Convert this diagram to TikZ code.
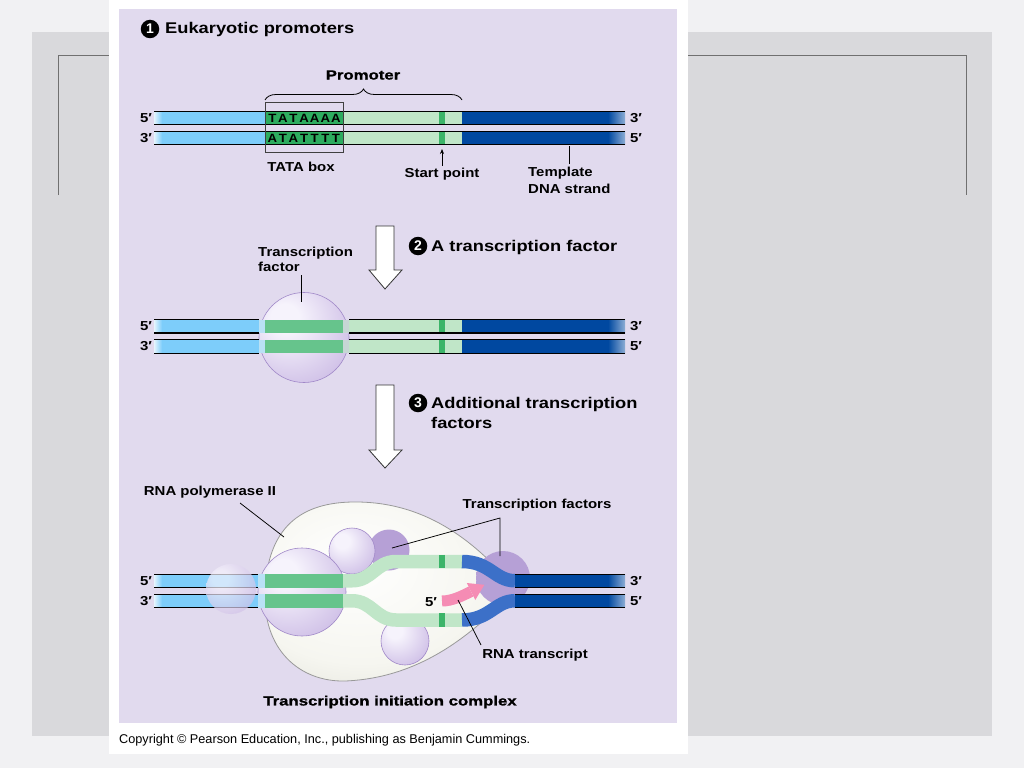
\documentclass[tikz,border=0pt]{standalone}
\usepackage{fontspec}
\setmainfont{Liberation Sans}
\newfontfamily\labf[FakeStretch=1.15]{Liberation Sans}
\newfontfamily\headf[FakeStretch=1.18]{Liberation Sans}
\newfontfamily\heavyf[FakeStretch=1.26,BoldFeatures={FakeBold=1.2}]{Liberation Sans}
\newfontfamily\letf[FakeStretch=1.1]{Liberation Sans}
\usetikzlibrary{decorations.pathreplacing,arrows.meta}

\definecolor{outerbg}{RGB}{241,241,243}
\definecolor{slidegray}{RGB}{217,217,220}
\definecolor{frameln}{RGB}{112,112,112}
\definecolor{lav}{RGB}{225,218,238}
\definecolor{lblue}{RGB}{125,205,250}
\definecolor{pblue}{RGB}{185,225,245}
\definecolor{dblue}{RGB}{0,72,160}
\definecolor{mblue}{RGB}{60,112,200}
\definecolor{tgreen}{RGB}{45,172,95}
\definecolor{mgreen}{RGB}{102,196,140}
\definecolor{lgreen}{RGB}{192,230,200}
\definecolor{sgreen}{RGB}{60,180,105}
\definecolor{rnapink}{RGB}{245,140,180}
\definecolor{orbA}{RGB}{246,243,252}
\definecolor{orbB}{RGB}{206,190,230}
\definecolor{orbC}{RGB}{160,136,200}
\definecolor{orbD}{RGB}{182,160,214}
\definecolor{orbE}{RGB}{148,122,192}
\definecolor{bodyA}{RGB}{246,246,240}
\definecolor{bodyB}{RGB}{212,212,202}

\pgfdeclareradialshading{orbL}{\pgfpoint{-12bp}{12bp}}{color(0bp)=(orbA); color(8bp)=(orbA); color(36bp)=(orbB); color(56bp)=(orbC); color(72bp)=(orbC)}
\pgfdeclareradialshading{orbDk}{\pgfpoint{-12bp}{12bp}}{color(0bp)=(orbD); color(30bp)=(orbD); color(56bp)=(orbE); color(72bp)=(orbE)}
\pgfdeclareradialshading{bodysh}{\pgfpoint{-8bp}{8bp}}{color(0bp)=(white); color(25bp)=(bodyA); color(50bp)=(bodyB); color(72bp)=(bodyB)}

\tikzset{
  lbl/.style={font=\labf\bfseries\fontsize{13}{15}\selectfont, inner sep=0pt, text=black},
  head/.style={font=\headf\bfseries\fontsize{15.5}{20}\selectfont, inner sep=0pt, anchor=west, align=left},
  heavy/.style={font=\heavyf\bfseries\fontsize{13.3}{16}\selectfont, inner sep=0pt},
  numc/.style={circle, fill=black, text=white, inner sep=0pt, minimum size=18.5pt, font=\bfseries\fontsize{14}{14}\selectfont},
  leader/.style={draw=black, line width=0.75},
  dnaline/.style={line width=0.7, black},
  bigarrow/.style={fill=white, draw=black!80, line width=0.8},
  strand/.style={line width=13.5},
  baseletter/.style={font=\letf\bfseries\fontsize{12}{12}\selectfont, inner sep=0pt},
  orbdraw/.style={draw=orbC, line width=0.6},
}

\begin{document}
\begin{tikzpicture}[x=1pt,y=-1pt]
\useasboundingbox (0,0) rectangle (1024,768);
\fill[outerbg] (0,0) rectangle (1024,768);
\fill[slidegray] (32,32) rectangle (992,736);
\draw[frameln, line width=1] (58,195) -- (58,56) -- (966,56) -- (966,195);
\fill[white] (109,0) rectangle (688,754);
\fill[lav] (119,9) rectangle (677,723);

% ---------- Stage 1 ----------
\node[numc] (n1) at (150,29) {1};
\node[head] (t1) at (165,29) {Eukaryotic promoters};

\foreach \ya/\yb in {111/124.5,131/144.5}{
  \fill[lblue] (162,\ya) rectangle (265,\yb);
  \shade[left color=lblue!20!white, right color=lblue] (154,\ya) rectangle (162,\yb);
  \fill[tgreen] (265,\ya) rectangle (343,\yb);
  \fill[lgreen] (343,\ya) rectangle (462,\yb);
  \fill[sgreen] (439,\ya) rectangle (445,\yb);
  \fill[dblue] (462,\ya) rectangle (608,\yb);
  \shade[left color=dblue, right color=dblue!45!white] (608,\ya) rectangle (625,\yb);
}
\draw[dnaline] (154,111) -- (625,111);
\draw[dnaline, line width=1.5] (154,124.5) -- (625,124.5);
\draw[dnaline] (154,131) -- (625,131);
\draw[dnaline] (154,144.5) -- (625,144.5);

\foreach \c [count=\i from 0] in {T,A,T,A,A,A,A}
  \node[baseletter] (ta\i) at ({272.3+10.6*\i},118) {\c};
\foreach \c [count=\i from 0] in {A,T,A,T,T,T,T}
  \node[baseletter] (tb\i) at ({272.3+10.6*\i},138) {\c};

\node[draw=black!75, line width=1, minimum width=78pt, minimum height=50pt, inner sep=0pt] (tatabox) at (304,127) {};
\draw[decorate, decoration={brace, amplitude=11pt}, line width=0.8] (265,100) -- (462,100);
\node[heavy] (prom) at (363,75) {Promoter};

\node[lbl] (s1a) at (146,118) {5′};
\node[lbl] (s1b) at (146,138) {3′};
\node[lbl] (s1c) at (636,118) {3′};
\node[lbl] (s1d) at (636,138) {5′};

\node[lbl] (tatal) at (301,167) {TATA box};
\node[lbl] (startl) at (442,174) {Start point};
\coordinate (startp) at (442,149);
\draw[-{Stealth[length=5pt,width=4pt]}, line width=0.7, shorten <=2pt] (startl.north) -- (startp);
\node[lbl, align=left, anchor=north west, font=\labf\bfseries\fontsize{13}{17}\selectfont] (templ) at (528,167) {Template\\DNA strand};
\coordinate (tmplA) at (569,164);
\coordinate (tmplB) at (569,146);
\draw[leader] (tmplA) -- (tmplB);

% ---------- Arrow / Stage 2 ----------
\path[bigarrow] (376,226) -- (394,226) -- (394,270) -- (402,270) -- (385,289) -- (369,270) -- (376,270) -- cycle;
\node[numc] (n2) at (418,246) {2};
\node[head] (t2) at (431,247) {A transcription factor};

\shade[shading=orbL] (304,337.5) circle[radius=45];
\draw[orbdraw] (304,337.5) circle[radius=45];

\foreach \ya/\yb in {319.5/333,339.5/353}{
  \fill[lblue] (162,\ya) rectangle (259,\yb);
  \shade[left color=lblue!20!white, right color=lblue] (154,\ya) rectangle (162,\yb);
  \fill[pblue] (259,\ya) rectangle (265,\yb);
  \fill[mgreen] (265,\ya) rectangle (343,\yb);
  \fill[lgreen!60!orbB] (343,\ya) rectangle (349,\yb);
  \fill[lgreen] (349,\ya) rectangle (462,\yb);
  \fill[sgreen] (439,\ya) rectangle (445,\yb);
  \fill[dblue] (462,\ya) rectangle (608,\yb);
  \shade[left color=dblue, right color=dblue!45!white] (608,\ya) rectangle (625,\yb);
}
\foreach \yy in {319.5,339.5,353}{
  \draw[dnaline] (154,\yy) -- (259,\yy);
  \draw[dnaline] (349,\yy) -- (625,\yy);
}
\draw[dnaline, line width=1.5] (154,333) -- (259,333);
\draw[dnaline, line width=1.5] (349,333) -- (625,333);

\node[lbl] (s2a) at (146,326) {5′};
\node[lbl] (s2b) at (146,346) {3′};
\node[lbl] (s2c) at (636,326) {3′};
\node[lbl] (s2d) at (636,346) {5′};

\node[lbl, align=left, anchor=west] (tfl) at (258,259.5) {Transcription\\factor};
\coordinate (tfA) at (301,275);
\coordinate (tfB) at (301,302);
\draw[leader] (tfA) -- (tfB);

% ---------- Arrow / Stage 3 ----------
\path[bigarrow] (376,385) -- (394,385) -- (394,450) -- (402,450) -- (385,468) -- (369,450) -- (376,450) -- cycle;
\node[numc] (n3) at (418,403) {3};
\node[head] (t3) at (431,413) {Additional transcription\\factors};

% polymerase body
\shadedraw[shading=bodysh, draw=black!40, line width=0.8]
  (514,587) .. controls (478,545) and (430,503) .. (358,502)
  .. controls (298,501) and (268,530) .. (265,590)
  .. controls (262,650) and (300,682) .. (345,681)
  .. controls (420,678) and (472,635) .. (514,591) -- cycle;

% balls
\shade[shading=orbDk] (503,578) circle[radius=27];
\shade[shading=orbDk] (389,550) circle[radius=20.5];
\shade[shading=orbL] (352,551) circle[radius=23];
\draw[orbdraw] (352,551) circle[radius=23];
\shade[shading=orbL] (405,641) circle[radius=24];
\draw[orbdraw] (405,641) circle[radius=24];
\shade[shading=orbL] (302,592) circle[radius=44];
\draw[orbdraw] (302,592) circle[radius=44];

% DNA stage 3
\foreach \yc/\yo in {580.75/561.5,600.75/620}{
  \draw[strand, lblue] (162,\yc) -- (258,\yc);
  \draw[strand, pblue] (258,\yc) -- (265,\yc);
  \draw[strand, mgreen] (265,\yc) -- (343,\yc);
  \draw[strand, lgreen] (343,\yc) -- (352,\yc) .. controls (372,\yc) and (376,\yo) .. (396,\yo) -- (462,\yo);
  \draw[strand, mblue] (462,\yo) .. controls (490,\yo) and (495,\yc) .. (515,\yc);
  \draw[strand, dblue] (515,\yc) -- (608,\yc);
  \draw[strand, sgreen, line width=6] (441.5,\yo-6.75) -- (441.5,\yo+6.75);
}
\foreach \ya/\yb in {574/587.5,594/607.5}{
  \shade[left color=lblue!20!white, right color=lblue] (154,\ya) rectangle (162,\yb);
  \shade[left color=dblue, right color=dblue!45!white] (608,\ya) rectangle (625,\yb);
}
\foreach \yy in {574,594,607.5}{
  \draw[dnaline] (154,\yy) -- (258,\yy);
  \draw[dnaline] (515,\yy) -- (625,\yy);
}
\draw[dnaline, line width=1.5] (154,587.5) -- (258,587.5);
\draw[dnaline, line width=1.5] (515,587.5) -- (625,587.5);

\shade[shading=orbL, opacity=0.7] (231,589) circle[radius=25];

% RNA transcript
\draw[rnapink, line width=11] (442,601) .. controls (452,601) and (462,596) .. (471,591.5);
\fill[rnapink] (466.75,583) -- (484.4,584.8) -- (475.25,600) -- cycle;
\node[lbl] (b5) at (431,602) {5′};

\node[lbl] (s3a) at (146,581) {5′};
\node[lbl] (s3b) at (146,601) {3′};
\node[lbl] (s3c) at (636,581) {3′};
\node[lbl] (s3d) at (636,601) {5′};

\node[lbl] (polL) at (210,492) {RNA polymerase II};
\coordinate (polA) at (240,503);
\coordinate (polB) at (284,537);
\draw[leader] (polA) -- (polB);

\node[lbl] (tfsL) at (537,505) {Transcription factors};
\coordinate (tfJ) at (500,518);
\coordinate (tfBall1) at (392,548);
\coordinate (tfBall2) at (500,556);
\draw[leader] (tfBall1) -- (tfJ) -- (tfBall2);

\node[lbl] (rnaL) at (535,655) {RNA transcript};
\coordinate (rnaA) at (458,600);
\coordinate (rnaB) at (481,645);
\draw[leader] (rnaA) -- (rnaB);

\node[heavy] (ticL) at (390,702) {Transcription initiation complex};

\node[anchor=west, inner sep=0pt, font=\fontsize{12.7}{14}\selectfont] (copy) at (119,740) {Copyright © Pearson Education, Inc., publishing as Benjamin Cummings.};
\end{tikzpicture}
\end{document}
